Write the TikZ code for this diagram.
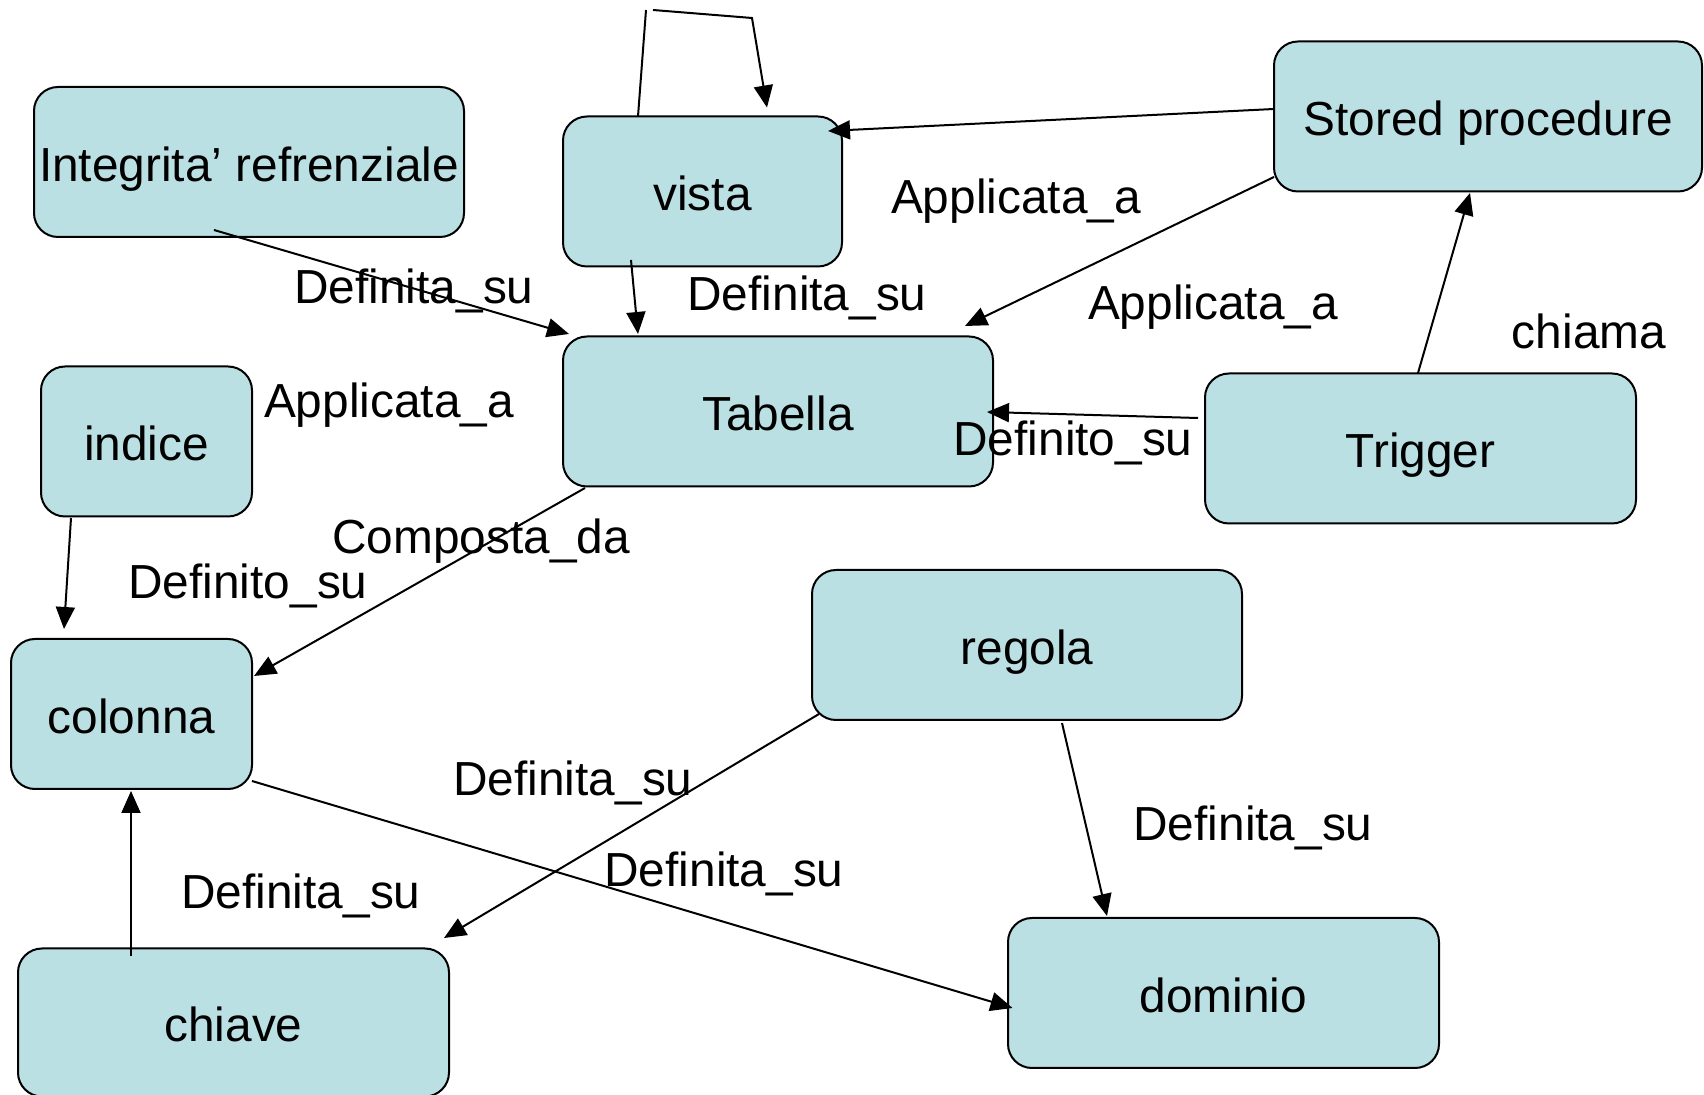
\documentclass[tikz,border=0pt]{standalone}
\usepackage{fontspec}
\setmainfont{Liberation Sans}
\usetikzlibrary{arrows.meta}
\definecolor{boxfill}{HTML}{BBE0E3}
\tikzset{
  entity/.style={draw=black, line width=1pt, fill=boxfill, rounded corners=12pt,
    inner sep=0pt, minimum height=75pt, align=center,
    text height=19.5pt, text depth=0pt,
    font=\fontsize{23.9}{28}\selectfont},
  rel/.style={draw=black, line width=1pt, -{Triangle[length=11pt,width=9.5pt]}},
  lbl/.style={inner sep=0pt, text height=17.4pt, text depth=0pt,
    font=\fontsize{23.9}{28}\selectfont}
}
\begin{document}
\begin{tikzpicture}[x=0.5pt, y=-0.5pt]
\useasboundingbox (0,0) rectangle (1704,1095);

% entities (coordinates in px, y downwards)
\node[entity, minimum width=215pt] (integ)   at (249,162)     {Integrita’ refrenziale};
\node[entity, minimum width=139.5pt] (vista) at (702.5,191.5) {vista};
\node[entity, minimum width=214pt] (stored)  at (1488,116.5)  {Stored procedure};
\node[entity, minimum width=215pt] (tabella) at (778,411.5)   {Tabella};
\node[entity, minimum width=215.5pt] (trigger) at (1420.5,448.5) {Trigger};
\node[entity, minimum width=105.5pt] (indice) at (146.5,441.5) {indice};
\node[entity, minimum width=120.5pt] (colonna) at (131.5,714) {colonna};
\node[entity, minimum width=215.5pt, minimum height=74pt] (chiave) at (233.5,1022.5) {chiave};
\node[entity, minimum width=215pt] (regola)  at (1027,645)    {regola};
\node[entity, minimum width=215.5pt] (dominio) at (1223.5,993) {dominio};

% self-loop on vista
\coordinate (loopa) at (646,10);
\coordinate (loopb) at (653,10);
\coordinate (loopc) at (752,18);
\draw[rel] ([shift={(-64.5,1)}]vista.north) -- (loopa) (loopb) -- (loopc)
  -- ([shift={(64.5,-8)}]vista.north);

% relations
\draw[rel] ([shift={(-214,-7.5)}]stored.center) -- ([shift={(125.5,-60.5)}]vista.center);
\draw[rel] ([shift={(-214,60.5)}]stored.center) -- ([shift={(187,-85.5)}]tabella.center);
\draw[rel] ([shift={(-2.5,-75.5)}]trigger.center) -- ([shift={(-18,76.5)}]stored.center);
\draw[rel] ([shift={(-222.5,-30.5)}]trigger.center) -- ([shift={(209,0.5)}]tabella.center);
\draw[rel] ([shift={(-35,68)}]integ.center) -- ([shift={(-209,-77.5)}]tabella.center);
\draw[rel] ([shift={(-71.5,68.5)}]vista.center) -- ([shift={(-140,-77.5)}]tabella.center);
\draw[rel] ([shift={(-193,76.5)}]tabella.center) -- ([shift={(122.5,-38)}]colonna.center);
\draw[rel] ([shift={(-75.5,76.5)}]indice.center) -- ([shift={(-67.5,-85)}]colonna.center);
\draw[rel] ([shift={(-102.5,-66.5)}]chiave.center) -- ([shift={(-0.5,77)}]colonna.center);
\draw[rel] ([shift={(120.5,67)}]colonna.center) -- ([shift={(-211,15)}]dominio.center);
\draw[rel] ([shift={(-208,69)}]regola.center) -- ([shift={(210.5,-84.5)}]chiave.center);
\draw[rel] ([shift={(35,78)}]regola.center) -- ([shift={(-116.5,-77)}]dominio.center);

% relation labels
\node[lbl] (lApplVista)  at (1016,196) {Applicata\_a};
\node[lbl] (lDefVista)   at (807,293)  {Definita\_su};
\node[lbl] (lApplTab)    at (1213,302) {Applicata\_a};
\node[lbl] (lChiama)     at (1589,331) {chiama};
\node[lbl] (lDefInteg)   at (414,286)  {Definita\_su};
\node[lbl] (lApplIndice) at (389,400)  {Applicata\_a};
\node[lbl] (lDefTrig)    at (1073,438) {Definito\_su};
\node[lbl] (lComp)       at (481,536)  {Composta\_da};
\node[lbl] (lDefIndice)  at (248,581)  {Definito\_su};
\node[lbl] (lDefRegChi)  at (573,778)  {Definita\_su};
\node[lbl] (lDefColDom)  at (724,869)  {Definita\_su};
\node[lbl] (lDefChiave)  at (301,891)  {Definita\_su};
\node[lbl] (lDefRegDom)  at (1253,823) {Definita\_su};
\end{tikzpicture}
\end{document}
